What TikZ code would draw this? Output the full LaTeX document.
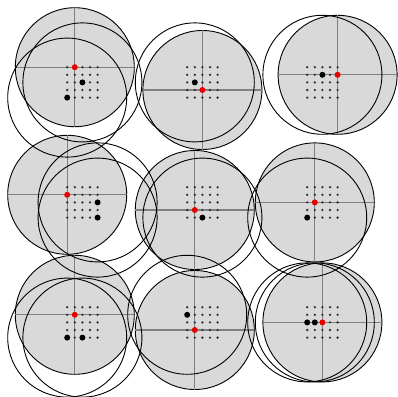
\documentclass[tikz,border=0pt]{standalone}
\definecolor{fillgray}{RGB}{217,217,217}
\definecolor{crossgray}{RGB}{128,128,128}
\definecolor{dotred}{RGB}{230,0,0}
\tikzset{
  graydisc/.style={fill=fillgray,draw=black,line width=0.9pt},
  ring/.style={draw=black,line width=0.9pt},
  crossline/.style={draw=crossgray,line width=1.3pt},
  griddot/.style={circle,fill=black!80,inner sep=0pt,minimum size=2.6pt},
  reddot/.style={circle,fill=dotred,inner sep=0pt,minimum size=6pt},
  blackdot/.style={circle,fill=black,inner sep=0pt,minimum size=6pt},
}
\begin{document}
\begin{tikzpicture}[x=1pt,y=-1pt]
\useasboundingbox (0,0) rectangle (398,396);
\def\R{59.5}
\def\panels{0/0/1/0/{2/2,0/4},1/0/2/3/{1/2},2/0/4/1/{2/1},0/1/0/1/{4/2,4/4},1/1/1/3/{2/4},2/1/1/2/{0/4},0/2/1/1/{0/4,2/4},1/2/1/3/{0/1},2/2/2/2/{0/2,1/2}}
% centres
\foreach \i/\j/\a/\b/\bl in \panels {
  \coordinate (c\i\j) at ({67.2+120*\i+7.6*\a},{67.2+120*\j+7.6*\b});
}
% gray discs
\foreach \i/\j/\a/\b/\bl in \panels {
  \draw[graydisc] (c\i\j) circle[radius=\R];
}
% crosshairs
\foreach \i/\j/\a/\b/\bl in \panels {
  \draw[crossline] (c\i\j) ++(-\R,0) -- ++(2*\R,0);
  \draw[crossline] (c\i\j) ++(0,-\R) -- ++(0,2*\R);
}
% rings around black samples
\foreach \i/\j/\a/\b/\bl in \panels {
  \foreach \p/\q in \bl {
    \coordinate (k\i\j\p\q) at ({67.2+120*\i+7.6*\p},{67.2+120*\j+7.6*\q});
    \draw[ring] (k\i\j\p\q) circle[radius=\R];
  }
}
% grid dots
\foreach \i/\j/\a/\b/\bl in \panels {
  \foreach \u in {0,...,4} {
    \foreach \v in {0,...,4} {
      \node[griddot] (g\i\j\u\v) at ({67.2+120*\i+7.6*\u},{67.2+120*\j+7.6*\v}) {};
    }
  }
}
% red and black dots
\foreach \i/\j/\a/\b/\bl in \panels {
  \foreach \p/\q in \bl {
    \node[blackdot] (b\i\j\p\q) at (k\i\j\p\q) {};
  }
  \node[reddot] (r\i\j) at (c\i\j) {};
}
\end{tikzpicture}
\end{document}
